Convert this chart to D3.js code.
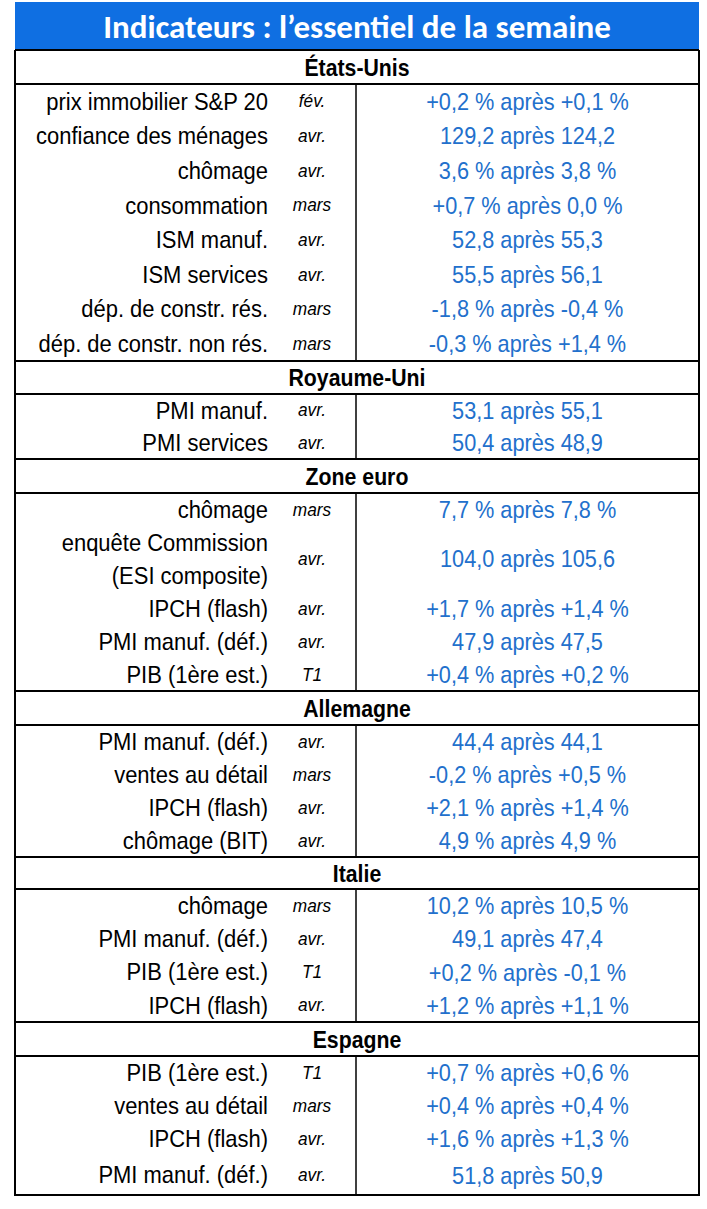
<!DOCTYPE html>
<html><head><meta charset="utf-8">
<script src="https://cdn.jsdelivr.net/npm/d3@7/dist/d3.min.js"></script>
<style>
html,body{margin:0;padding:0;background:#fff;}
svg{display:block;}
</style></head>
<body>
<svg id="chart" width="707" height="1209"></svg>
<script>
const title = "Indicateurs : l\u2019essentiel de la semaine";
const countries = ["États-Unis","Royaume-Uni","Zone euro","Allemagne","Italie","Espagne"];
const usLabels = ["prix immobilier S&P 20","confiance des ménages","chômage","consommation","ISM manuf.","ISM services","dép. de constr. rés.","dép. de constr. non rés."];
const usPeriods = ["fév.","avr.","avr.","mars","avr.","avr.","mars","mars"];
const usValues = ["+0,2 % après +0,1 %","129,2 après 124,2","3,6 % après 3,8 %","+0,7 % après 0,0 %","52,8 après 55,3","55,5 après 56,1","-1,8 % après -0,4 %","-0,3 % après +1,4 %"];
const ukLabels = ["PMI manuf.","PMI services"];
const ukPeriods = ["avr.","avr."];
const ukValues = ["53,1 après 55,1","50,4 après 48,9"];
const ezLabels = ["chômage","enquête Commission|(ESI composite)","IPCH (flash)","PMI manuf. (déf.)","PIB (1ère est.)"];
const ezPeriods = ["mars","avr.","avr.","avr.","T1"];
const ezValues = ["7,7 % après 7,8 %","104,0 après 105,6","+1,7 % après +1,4 %","47,9 après 47,5","+0,4 % après +0,2 %"];
const deLabels = ["PMI manuf. (déf.)","ventes au détail","IPCH (flash)","chômage (BIT)"];
const dePeriods = ["avr.","mars","avr.","avr."];
const deValues = ["44,4 après 44,1","-0,2 % après +0,5 %","+2,1 % après +1,4 %","4,9 % après 4,9 %"];
const itLabels = ["chômage","PMI manuf. (déf.)","PIB (1ère est.)","IPCH (flash)"];
const itPeriods = ["mars","avr.","T1","avr."];
const itValues = ["10,2 % après 10,5 %","49,1 après 47,4","+0,2 % après -0,1 %","+1,2 % après +1,1 %"];
const esLabels = ["PIB (1ère est.)","ventes au détail","IPCH (flash)","PMI manuf. (déf.)"];
const esPeriods = ["T1","mars","avr.","avr."];
const esValues = ["+0,7 % après +0,6 %","+0,4 % après +0,4 %","+1,6 % après +1,3 %","51,8 après 50,9"];

const sections = [
  {name: countries[0], labels: usLabels, periods: usPeriods, values: usValues},
  {name: countries[1], labels: ukLabels, periods: ukPeriods, values: ukValues},
  {name: countries[2], labels: ezLabels, periods: ezPeriods, values: ezValues},
  {name: countries[3], labels: deLabels, periods: dePeriods, values: deValues},
  {name: countries[4], labels: itLabels, periods: itPeriods, values: itValues},
  {name: countries[5], labels: esLabels, periods: esPeriods, values: esValues}
];

// layout
const L = 15, R = 699, DIV = 356, TOP = 2, TITLE_B = 50;
const bounds = [[50,84,361],[361,394,459],[459,493,691],[691,725,857],[857,889,1022],[1022,1056,1195]];
const labelX = 268, periodX = 312, valueX = (DIV + R) / 2, centerX = (L + R) / 2;
const BLUE_BG = "#0f6fe2", BLUE_TX = "#2270cc";
const SANS = "'Liberation Sans', Arimo, Arial, sans-serif";

const svg = d3.select("#chart");
svg.append("rect").attr("x", L).attr("y", TOP).attr("width", R - L).attr("height", TITLE_B - TOP).attr("fill", BLUE_BG);
svg.append("text").attr("x", centerX).attr("y", 27).attr("text-anchor", "middle").attr("dominant-baseline", "central")
  .attr("fill", "#fff").attr("font-family", "Carlito, Lato, 'Open Sans', sans-serif").attr("font-weight", 700)
  .attr("font-size", 33).text(title);

function narrow(parent, x, y, txt, opts) {
  const gg = parent.append("g").attr("transform", `translate(${x},${y}) scale(${opts.sx},1)`);
  gg.append("text").attr("x", 0).attr("y", 0).attr("text-anchor", opts.anchor).attr("dominant-baseline", "central")
    .attr("font-family", SANS).attr("font-size", opts.size).attr("font-weight", opts.weight || 400)
    .attr("font-style", opts.style || "normal").attr("fill", opts.fill || "#000").text(txt);
}

const g = svg.append("g");
sections.forEach((s, si) => {
  const [ht, hb, sb] = bounds[si];
  narrow(g, centerX, (ht + hb) / 2 + 1, s.name, {anchor: "middle", size: 23, weight: 700, sx: 0.925});
  const weights = s.labels.map((l, i) => l.includes("|") ? 2 : (si === 5 && i === s.labels.length - 1 ? 1.2 : 1));
  const total = d3.sum(weights);
  const y = d3.scaleLinear().domain([0, total]).range([hb, sb]);
  let acc = 0;
  s.labels.forEach((lab, i) => {
    const cy = y(acc + weights[i] / 2);
    acc += weights[i];
    const lines = lab.split("|");
    lines.forEach((ln, k) => {
      const off = (k - (lines.length - 1) / 2) * 33;
      narrow(g, labelX, cy + off, ln, {anchor: "end", size: 24, sx: 0.915});
    });
    narrow(g, periodX, cy, s.periods[i], {anchor: "middle", size: 18, style: "italic", sx: 0.96});
    narrow(g, valueX, cy, s.values[i], {anchor: "middle", size: 24, fill: BLUE_TX, sx: 0.905});
  });
  g.append("line").attr("x1", L).attr("x2", R).attr("y1", ht).attr("y2", ht).attr("stroke", "#000").attr("stroke-width", 2);
  g.append("line").attr("x1", L).attr("x2", R).attr("y1", hb).attr("y2", hb).attr("stroke", "#000").attr("stroke-width", 2);
  g.append("line").attr("x1", DIV).attr("x2", DIV).attr("y1", hb).attr("y2", sb).attr("stroke", "#000").attr("stroke-width", 1.5);
});
g.append("line").attr("x1", L).attr("x2", R).attr("y1", 1195).attr("y2", 1195).attr("stroke", "#000").attr("stroke-width", 2);
g.append("line").attr("x1", L).attr("x2", L).attr("y1", TITLE_B).attr("y2", 1196).attr("stroke", "#000").attr("stroke-width", 2);
g.append("line").attr("x1", R).attr("x2", R).attr("y1", TITLE_B).attr("y2", 1196).attr("stroke", "#000").attr("stroke-width", 2);
</script>
</body></html>
